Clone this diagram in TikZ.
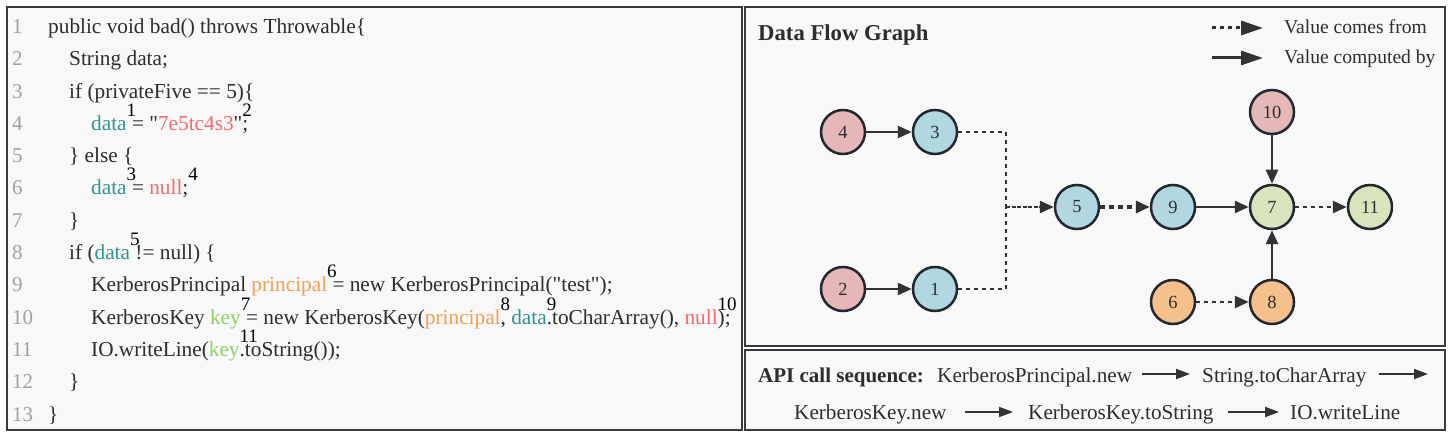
\documentclass[tikz,border=0pt]{standalone}
\usepackage{fontspec}
\setmainfont{Liberation Serif}[Ligatures=TeXOff]
\usetikzlibrary{arrows.meta}
\definecolor{txt}{RGB}{45,45,45}
\definecolor{lnumc}{RGB}{160,160,160}
\definecolor{cteal}{RGB}{46,148,146}
\definecolor{cred}{RGB}{240,108,108}
\definecolor{corange}{RGB}{244,160,84}
\definecolor{cgreen}{RGB}{140,210,100}
\definecolor{npink}{RGB}{229,184,183}
\definecolor{nblue}{RGB}{177,215,224}
\definecolor{ngreen}{RGB}{216,228,188}
\definecolor{norange}{RGB}{246,192,140}
\definecolor{nborder}{RGB}{34,40,48}
\definecolor{edgec}{RGB}{50,50,50}
\definecolor{panelfill}{RGB}{248,248,248}
\definecolor{panelline}{RGB}{55,58,62}
\newcommand\supn[1]{\rlap{\raisebox{14pt}{\color{black}\fontsize{19}{19}\selectfont #1}}}
\begin{document}
\begin{tikzpicture}[x=1pt,y=-1pt,
  panel/.style={draw=panelline,line width=2pt,fill=panelfill},
  code/.style={anchor=base west,inner sep=0pt,text=txt,font=\fontsize{21.3}{22}\selectfont},
  lnum/.style={anchor=base west,inner sep=0pt,text=lnumc,font=\fontsize{21}{22}\selectfont},
  gn/.style={circle,draw=nborder,line width=2.5pt,minimum size=44pt,inner sep=0pt,text=txt,font=\fontsize{18.5}{18}\selectfont},
  solidarr/.style={draw=edgec,line width=2.5pt,-{Triangle[length=14pt,width=12pt]}},
  dotln/.style={draw=edgec,line width=2.5pt,dash pattern=on 4pt off 4pt},
  dotarr/.style={dotln,-{Triangle[length=14pt,width=12pt]}},
  densearr/.style={draw=edgec,line width=2.5pt,dash pattern=on 4pt off 1.5pt,-{Triangle[length=14pt,width=12pt]}},
  thickdotarr/.style={draw=edgec,line width=4.5pt,dash pattern=on 5pt off 4pt,-{Triangle[length=14pt,width=12pt]}},
  txtn/.style={anchor=base west,inner sep=0pt,text=txt,font=\fontsize{21.2}{22}\selectfont},
  legarr/.style={draw=edgec,line width=3pt,-{Triangle[length=22pt,width=14pt]}},
  apiarr/.style={draw=edgec,line width=2pt,-{Triangle[length=14pt,width=10pt]}}
]
\useasboundingbox (0,0) rectangle (1448,435);
\fill[white] (0,0) rectangle (1448,435);
% panels
\draw[panel] (7,7) rectangle (742,430);
\draw[panel] (745,7) rectangle (1445,346);
\draw[panel] (745,350) rectangle (1445,430);
% line numbers
\foreach \i in {1,...,13}{
  \node[lnum] (ln\i) at (12,{33.5+(\i-1)*32.3}) {\i};
}
% code
\node[code] (c1) at (48,33.5) {public void bad() throws Throwable\{};
\node[code] (c2) at (69,65.8) {String data;};
\node[code] (c3) at (69,98.1) {if (privateFive == 5)\{};
\node[code] (c4) at (91,130.4) {{\color{cteal}data}\supn{1} = "{\color{cred}7e5tc4s3}"\supn{2};};
\node[code] (c5) at (69,162.7) {\} else \{};
\node[code] (c6) at (91,195.0) {{\color{cteal}data}\supn{3} = {\color{cred}null};\supn{4}};
\node[code] (c7) at (69,227.3) {\}};
\node[code] (c8) at (69,259.6) {if ({\color{cteal}data}\supn{5} != null) \{};
\node[code] (c9) at (91,291.9) {KerberosPrincipal {\color{corange}principal}\supn{6} = new KerberosPrincipal("test");};
\node[code] (c10) at (91,324.2) {KerberosKey {\color{cgreen}key}\supn{7} = new KerberosKey({\color{corange}principal}\supn{8}, {\color{cteal}data}\supn{9}.toCharArray(), {\color{cred}null}\supn{10});};
\node[code] (c11) at (91,356.5) {IO.writeLine({\color{cgreen}key}\supn{11}.toString());};
\node[code] (c12) at (69,388.8) {\}};
\node[code] (c13) at (48,421.1) {\}};
% title and legend
\node[anchor=base west,inner sep=0pt,text=txt,font=\bfseries\fontsize{22.7}{23}\selectfont] (title) at (758,41) {Data Flow Graph};
\coordinate (lga) at (1212,28);
\coordinate (lgb) at (1263,28);
\coordinate (lgc) at (1212,58);
\coordinate (lgd) at (1263,58);
\draw[legarr,dash pattern=on 4pt off 4pt] (lga) -- (lgb);
\draw[legarr] (lgc) -- (lgd);
\node[txtn,font=\fontsize{19.6}{20}\selectfont] (lgt1) at (1284,34) {Value comes from};
\node[txtn,font=\fontsize{19.6}{20}\selectfont] (lgt2) at (1284,64) {Value computed by};
% graph nodes
\node[gn,fill=npink] (g4) at (843,132) {4};
\node[gn,fill=nblue] (g3) at (935,132) {3};
\node[gn,fill=npink] (g2) at (843,289) {2};
\node[gn,fill=nblue] (g1) at (935,289) {1};
\node[gn,fill=nblue] (g5) at (1077,207) {5};
\node[gn,fill=nblue] (g9) at (1173,207) {9};
\node[gn,fill=ngreen] (g7) at (1272,207) {7};
\node[gn,fill=npink] (g10) at (1272,112) {10};
\node[gn,fill=ngreen] (g11) at (1370,207) {11};
\node[gn,fill=norange] (g6) at (1173,302) {6};
\node[gn,fill=norange] (g8) at (1272,302) {8};
\coordinate (J) at (1006,207);
% edges
\draw[solidarr] (g4) -- (g3);
\draw[solidarr] (g2) -- (g1);
\draw[dotln] (g3) -| (J);
\draw[dotln] (g1) -| (J);
\draw[densearr] (J) -- (g5);
\draw[thickdotarr] (g5) -- (g9);
\draw[solidarr] (g9) -- (g7);
\draw[solidarr] (g10) -- (g7);
\draw[solidarr] (g8) -- (g7);
\draw[dotarr] (g7) -- (g11);
\draw[dotarr] (g6) -- (g8);
% API sequence
\node[txtn,font=\bfseries\fontsize{21}{22}\selectfont] (apih) at (758,383) {API call sequence:};
\node[txtn] (a1) at (937,383) {KerberosPrincipal.new};
\node[txtn] (a2) at (1202,383) {String.toCharArray};
\node[txtn] (a3) at (794,419) {KerberosKey.new};
\node[txtn] (a4) at (1028,419) {KerberosKey.toString};
\node[txtn] (a5) at (1290,419) {IO.writeLine};
\coordinate (aend) at (1428,374);
\draw[apiarr] ([xshift=10pt,yshift=9pt]a1.base east) -- ([xshift=-12pt,yshift=9pt]a2.base west);
\draw[apiarr] ([xshift=12pt,yshift=9pt]a2.base east) -- (aend);
\draw[apiarr] ([xshift=18pt,yshift=7pt]a3.base east) -- ([xshift=-15pt,yshift=7pt]a4.base west);
\draw[apiarr] ([xshift=14pt,yshift=7pt]a4.base east) -- ([xshift=-11pt,yshift=7pt]a5.base west);
\end{tikzpicture}
\end{document}
